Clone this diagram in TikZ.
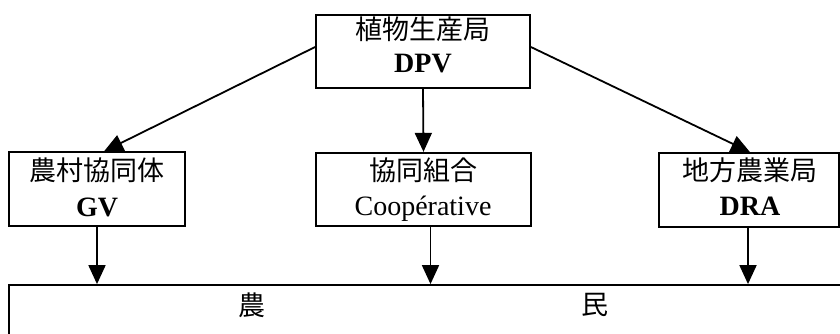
\documentclass[tikz,border=0pt]{standalone}
\usepackage{fontspec}
\setmainfont{Liberation Serif}
\newfontfamily\cjk{Noto Sans CJK JP}
\usetikzlibrary{arrows.meta,calc}
\begin{document}
\begin{tikzpicture}[x=1pt,y=-1pt,
  box/.style={draw, line width=1.8pt, inner sep=0pt},
  cj/.style={font=\cjk\fontsize{27}{30}\selectfont, inner sep=0pt},
  lt/.style={font=\fontsize{28}{30}\selectfont, inner sep=0pt, anchor=base},
  arr/.style={line width=1.8pt, -{Triangle[width=17pt,length=19pt]}}]
\useasboundingbox (0,0) rectangle (840,333);
\clip (0,0) rectangle (840,333);
\fill[white] (0,0) rectangle (840,333);
% boxes
\node[box, minimum width=214pt, minimum height=73pt] (dpv) at (423,51.5) {};
\node[box, minimum width=176pt, minimum height=73.5pt] (gv) at (97,189) {};
\node[box, minimum width=215pt, minimum height=73.5pt] (coop) at (423.5,189.5) {};
\node[box, minimum width=180pt, minimum height=74pt] (dra) at (749,190) {};
\node[box, minimum width=851pt, minimum height=75pt] (farm) at (434.5,322.5) {};
% texts
\node[cj] (dpvj) at (423,29) {植物生産局};
\node[lt, font=\fontsize{28}{30}\selectfont\bfseries] (dpvl) at (423,72) {DPV};
\node[cj] (gvj) at (97,170) {農村協同体};
\node[lt, font=\fontsize{28}{30}\selectfont\bfseries] (gvl) at (97,216) {GV};
\node[cj] (coopj) at (423,170) {協同組合};
\node[lt] (coopl) at (423,215) {Coopérative};
\node[cj] (draj) at (750,170) {地方農業局};
\node[lt, font=\fontsize{28}{30}\selectfont\bfseries] (dral) at (750,215) {DRA};
\node[cj] (farm1) at (252,305) {農};
\node[cj] (farm2) at (595,305) {民};
% connectors
\draw[arr] (dpv.south) -- (coop.north);
\draw[arr] ([yshift=4.5pt]dpv.west) -- ([xshift=7pt]gv.north);
\draw[arr] ([yshift=4.5pt]dpv.east) -- ([xshift=1pt]dra.north);
\draw[arr] (gv.south) -- (gv.south |- farm.north);
\draw[arr] ([xshift=7pt]coop.south) -- ([xshift=7pt]coop.south |- farm.north);
\draw[arr] ([xshift=-1pt]dra.south) -- ([xshift=-1pt]dra.south |- farm.north);
\end{tikzpicture}
\end{document}
